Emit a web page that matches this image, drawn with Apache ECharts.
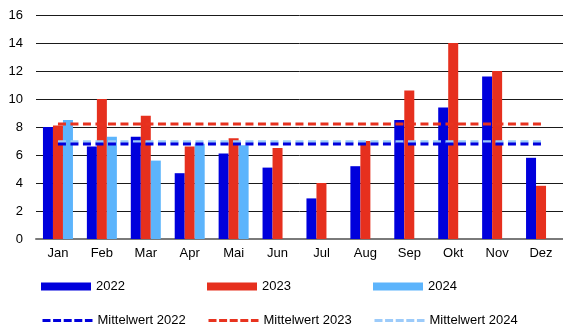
<!DOCTYPE html>
<html>
<head>
<meta charset="utf-8">
<script src="https://cdn.jsdelivr.net/npm/echarts@6/dist/echarts.min.js"></script>
<style>
  html, body { margin: 0; padding: 0; background: #fff; }
  #chart { width: 563px; height: 331px; }
</style>
</head>
<body>
<div id="chart"></div>
<script>
// Monthly values per year
var months = ['Jan', 'Feb', 'Mar', 'Apr', 'Mai', 'Jun', 'Jul', 'Aug', 'Sep', 'Okt', 'Nov', 'Dez'];
var values2022 = [8.0, 6.6, 7.3, 4.7, 6.1, 5.1, 2.9, 5.2, 8.5, 9.4, 11.6, 5.8];
var values2023 = [8.1, 10.0, 8.8, 6.6, 7.2, 6.5, 4.0, 7.0, 10.6, 14.0, 12.0, 3.8];
var values2024 = [8.5, 7.3, 5.6, 6.8, 6.7, null, null, null, null, null, null, null];

// Yearly averages (Mittelwert)
var mean2022 = 6.79;
var mean2023 = 8.21;
var mean2024 = 6.95;

var yTicks = [0, 2, 4, 6, 8, 10, 12, 14, 16];

var colors = {
  y2022: '#0000dc',
  y2023: '#e6301e',
  y2024: '#5cb4fc',
  m2022: '#0000dc',
  m2023: '#e8331f',
  m2024: '#9ccbfa'
};

var FONT = '"Liberation Sans", Arial, sans-serif';

function flat(v) {
  return months.map(function () { return v; });
}

var chart = echarts.init(document.getElementById('chart'), null, { renderer: 'canvas' });

function barSeries(name, data, color) {
  return {
    name: name,
    type: 'bar',
    data: data,
    barWidth: 10,
    barGap: '0%',
    itemStyle: { color: color },
    emphasis: { disabled: true },
    z: 2
  };
}

function meanSeries(name, value, color) {
  return {
    name: name,
    type: 'line',
    data: flat(value),
    symbol: 'none',
    showSymbol: false,
    lineStyle: { color: color, width: 3, type: [8, 4.5] },
    itemStyle: { color: color },
    emphasis: { disabled: true },
    z: 3
  };
}

function legendItem(name, left, top, isLine, color) {
  var l = {
    data: [name],
    left: left,
    top: top,
    itemWidth: 50,
    itemHeight: isLine ? 14 : 8,
    itemGap: 0,
    padding: 0,
    selectedMode: false,
    textStyle: { fontFamily: FONT, fontSize: 13, color: '#000', padding: [0, 0, 0, 0] }
  };
  if (isLine) {
    // dashed stroke only, no marker in the middle
    l.lineStyle = { width: 3, type: [8, 2.6], color: color };
    l.itemStyle = { color: 'rgba(0,0,0,0)', borderWidth: 0, opacity: 0 };
  } else {
    l.icon = 'rect';
  }
  return l;
}

var option = {
  animation: false,
  backgroundColor: '#fff',
  grid: { left: 36, right: 0, top: 15, bottom: 92, containLabel: false },
  legend: [
    legendItem('2022', 41, 280, false),
    legendItem('2023', 207, 280, false),
    legendItem('2024', 373, 280, false),
    legendItem('Mittelwert 2022', 41, 314, true, colors.m2022),
    legendItem('Mittelwert 2023', 207, 314, true, colors.m2023),
    legendItem('Mittelwert 2024', 373, 314, true, colors.m2024)
  ],
  xAxis: {
    type: 'category',
    data: months,
    boundaryGap: true,
    axisTick: { show: false },
    axisLine: { show: true, lineStyle: { color: '#7a7a7a', width: 2 } },
    axisLabel: { fontFamily: FONT, fontSize: 13, color: '#000', margin: 8 }
  },
  yAxis: {
    type: 'value',
    min: yTicks[0],
    max: yTicks[yTicks.length - 1],
    interval: yTicks[1] - yTicks[0],
    axisLine: { show: false },
    axisTick: { show: false },
    splitLine: { show: true, lineStyle: { color: '#1a1a1a', width: 1 } },
    axisLabel: { fontFamily: FONT, fontSize: 13, color: '#000', margin: 13 }
  },
  series: [
    barSeries('2022', values2022, colors.y2022),
    barSeries('2023', values2023, colors.y2023),
    barSeries('2024', values2024, colors.y2024),
    meanSeries('Mittelwert 2024', mean2024, colors.m2024),
    meanSeries('Mittelwert 2022', mean2022, colors.m2022),
    meanSeries('Mittelwert 2023', mean2023, colors.m2023)
  ]
};

chart.setOption(option);
</script>
</body>
</html>
